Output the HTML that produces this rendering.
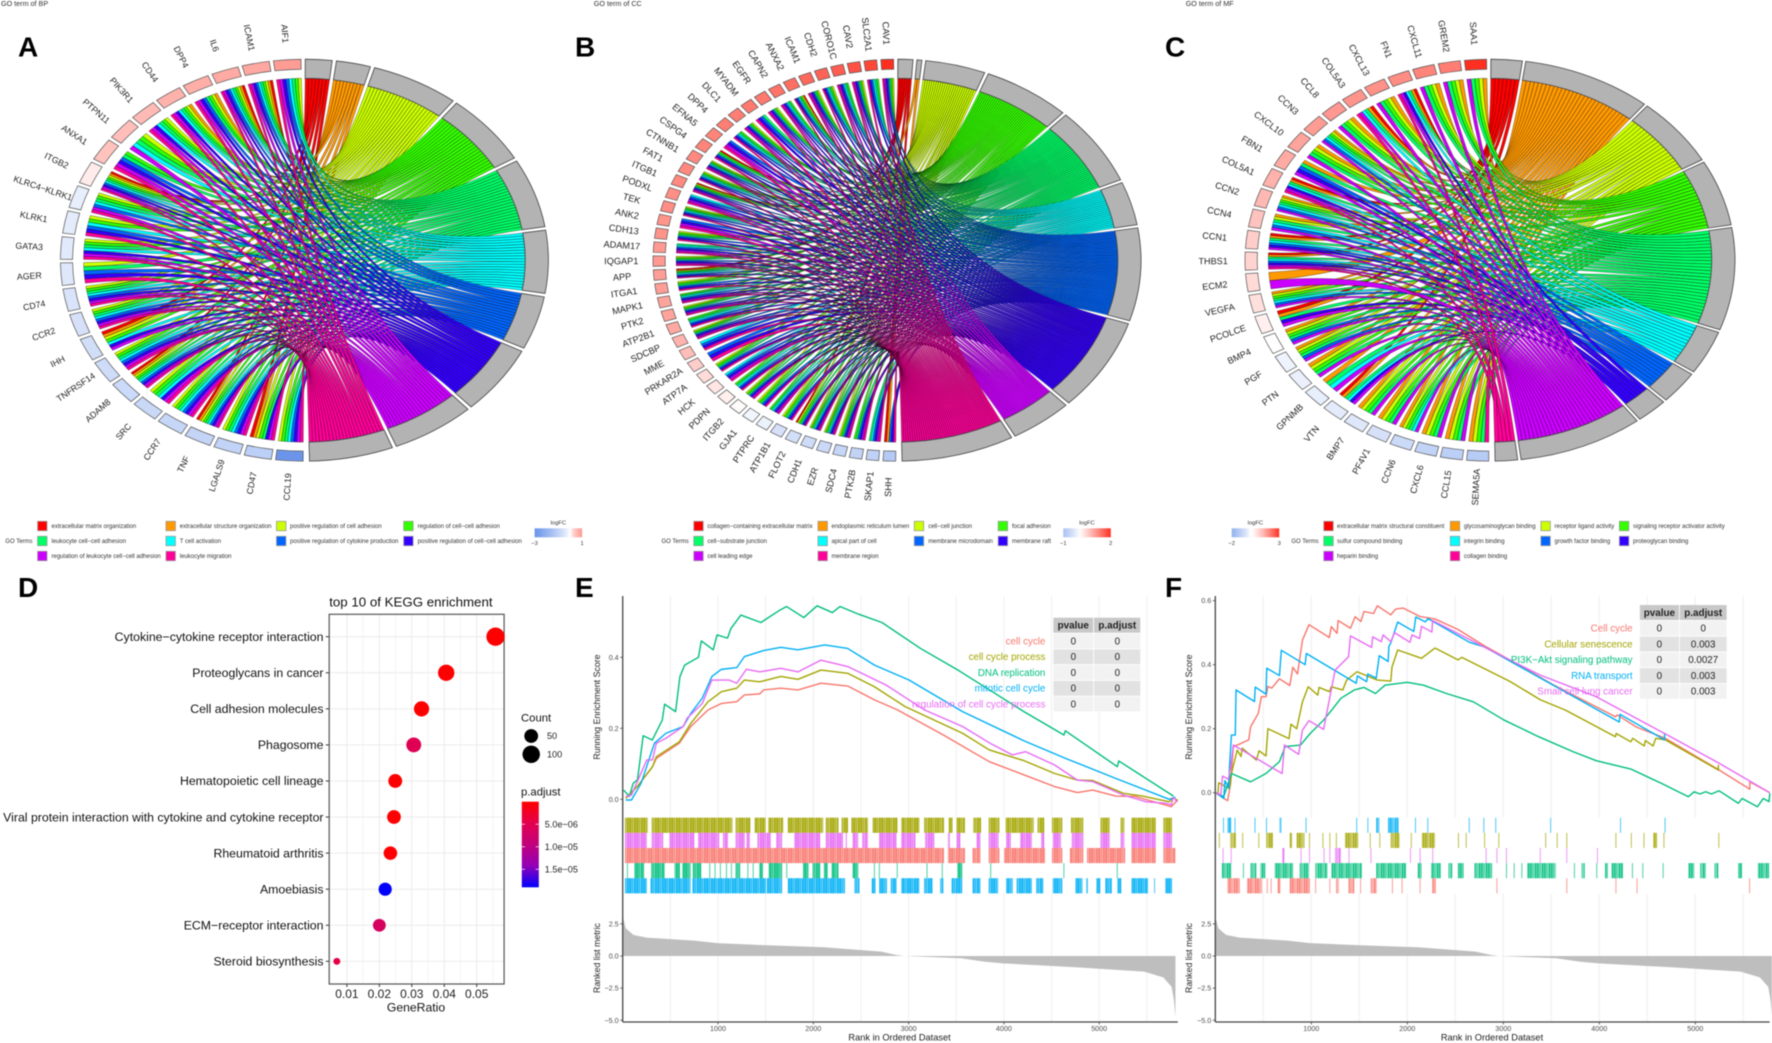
<!DOCTYPE html>
<html lang="en">
<head>
<meta charset="utf-8">
<title>GO chord, KEGG and GSEA enrichment figure</title>
<style>
html,body{margin:0;padding:0;background:#fff;}
svg{display:block;font-family:"Liberation Sans",sans-serif;filter:blur(0.4px);}
</style>
</head>
<body>
<svg id="figure" xmlns="http://www.w3.org/2000/svg" width="1772" height="1043" viewBox="0 0 1772 1043">
<rect x="0" y="0" width="1772" height="1043" fill="#fff"/>
<defs id="defs"></defs>
<text x="18" y="56.5" font-size="28" font-weight="bold" fill="#000">A</text>
<text x="575" y="56.5" font-size="28" font-weight="bold" fill="#000">B</text>
<text x="1165" y="56.5" font-size="28" font-weight="bold" fill="#000">C</text>
<text x="18" y="597" font-size="28" font-weight="bold" fill="#000">D</text>
<text x="575" y="597" font-size="28" font-weight="bold" fill="#000">E</text>
<text x="1165" y="597" font-size="28" font-weight="bold" fill="#000">F</text>
<text x="1" y="6" font-size="7.2" fill="#333">GO term of BP</text>
<text x="593.8" y="6" font-size="7.2" fill="#333">GO term of CC</text>
<text x="1185.7" y="6" font-size="7.2" fill="#333">GO term of MF</text>
</svg>
<script>
// ---------- shared chord data ----------
const rainbowColors = ["#FF0000","#FF9900","#CCFF00","#33FF00","#00FF66","#00FFFF","#0066FF","#3300FF","#CC00FF","#FF0099"];

// ---------- panel A ----------
const bpTerms = ["extracellular matrix organization","extracellular structure organization","positive regulation of cell adhesion","regulation of cell−cell adhesion","leukocyte cell−cell adhesion","T cell activation","positive regulation of cytokine production","positive regulation of cell−cell adhesion","regulation of leukocyte cell−cell adhesion","leukocyte migration"];
const bpGenes = ["AIF1","ICAM1","IL6","DPP4","CD44","PIK3R1","PTPN11","ANXA1","ITGB2","KLRC4−KLRK1","KLRK1","GATA3","AGER","CD74","CCR2","IHH","TNFRSF14","ADAM8","SRC","CCR7","TNF","LGALS9","CD47","CCL19"];
const bpLogFC = [0.95,0.8,0.75,0.7,0.65,0.55,0.5,0.45,0.08,-0.3,-0.35,-0.4,-0.45,-0.55,-0.6,-0.7,-0.75,-0.8,-0.85,-0.9,-0.95,-1,-1.1,-2.95];
const bpMembers = [
 [2,3,9,16,18,21,23],
 [2,3,4,5,9,16,18,21,23],
 [1,2,3,4,5,6,7,9,10,11,12,13,14,15,16,17,18,19,20,21,22,23,24],
 [1,2,3,4,5,6,7,8,9,10,11,12,14,15,16,17,18,19,20,21,22,23,24],
 [1,2,3,4,5,6,7,8,9,10,12,13,14,15,17,18,19,20,21,22,23,24],
 [1,2,3,5,6,7,9,10,11,12,14,15,16,17,18,19,20,21,22,24],
 [1,2,3,4,8,9,10,11,13,14,15,17,18,20,21,22,24],
 [1,2,3,4,5,6,8,9,11,12,13,14,15,16,17,18,19,20,21,22,23,24],
 [1,2,3,4,5,6,7,8,9,10,12,14,15,16,17,18,19,20,21,22,23,24],
 [1,2,3,4,5,6,8,9,10,11,12,13,14,15,17,18,19,20,21,22,23,24]
];

// ---------- panel B ----------
const ccTerms = ["collagen−containing extracellular matrix","endoplasmic reticulum lumen","cell−cell junction","focal adhesion","cell−substrate junction","apical part of cell","membrane microdomain","membrane raft","cell leading edge","membrane region"];
const ccGenes = ["CAV1","SLC2A1","CAV2","CORO1C","CDH2","ICAM1","ANXA2","CAPN2","EGFR","MYADM","DLC1","DPP4","EFNA5","CSPG4","CTNNB1","FAT1","ITGB1","PODXL","TEK","ANK2","CDH13","ADAM17","IQGAP1","APP","ITGA1","MAPK1","PTK2","ATP2B1","SDCBP","MME","PRKAR2A","ATP7A","HCK","PDPN","ITGB2","GJA1","PTPRC","ATP1B1","FLOT2","CDH1","EZR","SDC4","PTK2B","SKAP1","SHH"];
const ccLogFC = [2,1.8,1.7,1.6,1.55,1.5,1.45,1.4,1.35,1.35,1.3,1.3,1.25,1.25,1.2,1.2,1.2,1.15,1.15,1.1,1.1,1.05,1.05,1,1,0.95,0.95,0.9,0.8,0.7,0.55,0.4,0.3,0.2,0.05,-0.1,-0.15,-0.4,-0.45,-0.5,-0.55,-0.6,-0.65,-0.7,-0.85];
const ccMembers = [
 [7,14,17,24,39,45],
 [24,45],
 [1,3,5,6,7,9,11,15,16,17,19,21,23,25,27,29,32,35,36,38,39,40,41,42],
 [1,2,3,4,5,6,7,8,9,11,12,14,15,16,17,19,21,23,24,25,26,27,28,29,32,34,35,36,37,38,39,40,41,42,43],
 [1,2,3,4,5,6,7,8,9,10,11,12,14,15,16,17,19,21,22,23,24,25,26,27,28,29,32,34,35,36,37,38,39,40,41,42,43,44],
 [2,4,5,7,8,12,15,16,18,19,22,24,26,28,30,33,34,37,40,41,44],
 [1,2,3,4,5,6,7,8,9,10,11,12,13,14,15,16,17,18,19,20,21,22,23,24,25,26,27,28,29,30,31,32,33,34,35,36,37,38,39,40,41,42,43,44,45],
 [1,2,3,4,5,6,7,8,9,10,11,12,13,14,15,16,17,18,19,20,21,22,23,24,25,26,27,28,29,30,31,32,33,34,35,36,37,38,39,40,41,42,43,44,45],
 [1,3,4,6,8,9,11,13,15,17,18,20,22,23,26,27,29,33,35,37,40,41,42,43,44],
 [1,2,3,4,5,6,7,8,9,10,11,12,13,14,15,16,17,18,19,20,21,22,23,24,25,26,27,28,29,30,31,32,33,34,35,36,37,38,39,40,41,42,43,44,45]
];

// ---------- panel C ----------
const mfTerms = ["extracellular matrix structural constituent","glycosaminoglycan binding","receptor ligand activity","signaling receptor activator activity","sulfur compound binding","integrin binding","growth factor binding","proteoglycan binding","heparin binding","collagen binding"];
const mfGenes = ["SAA1","GREM2","CXCL11","FN1","CXCL13","COL5A3","CCL8","CCN3","CXCL10","FBN1","COL5A1","CCN2","CCN4","CCN1","THBS1","ECM2","VEGFA","PCOLCE","BMP4","PGF","PTN","GPNMB","VTN","BMP7","PF4V1","CCN6","CXCL6","CCL15","SEMA5A"];
const mfLogFC = [3,2.1,2,1.9,1.85,1.8,1.75,1.7,1.6,1.5,1.4,1.3,1.15,1,0.9,0.8,0.7,0.4,0.05,-0.2,-0.25,-0.3,-0.35,-0.45,-0.6,-0.8,-1,-1.1,-1.2];
const mfMembers = [
 [4,6,11,14,15,18,23],
 [1,2,3,4,5,6,7,8,9,10,11,12,13,14,15,16,17,18,19,20,21,22,23,24,25,26,27,28,29],
 [1,2,3,5,7,8,9,12,13,17,19,20,21,24,25,26,27,28,29],
 [1,2,3,5,7,8,9,12,17,19,20,21,24,25,26,27,28,29],
 [1,2,3,4,5,6,7,8,9,10,11,12,13,14,15,17,18,19,20,21,22,23,24,25,26,27,28,29],
 [4,6,8,11,12,13,14,15,17,22,23,26],
 [8,10,12,13,14,15,17,19,20],
 [4,10,11,14,15,18,23],
 [1,2,3,4,5,6,7,8,9,10,11,12,13,14,15,16,17,18,19,20,21,22,23,24,25,26,27,28],
 [4,6,11,15,29]
];

// ---------- panel D ----------
const keggPathways = ["Cytokine−cytokine receptor interaction","Proteoglycans in cancer","Cell adhesion molecules","Phagosome","Hematopoietic cell lineage","Viral protein interaction with cytokine and cytokine receptor","Rheumatoid arthritis","Amoebiasis","ECM−receptor interaction","Steroid biosynthesis"];
const keggGeneRatio = [0.0558,0.0406,0.0330,0.0306,0.0249,0.0245,0.0234,0.0218,0.0200,0.0069];
const keggCount = [114,83,67,63,51,50,48,44,41,14];
const keggPadjust = [1e-8,1e-8,2e-8,5.3e-6,1e-7,1e-7,2e-7,1.9e-5,6.6e-6,4.2e-6];
const keggXTicks = [0.01,0.02,0.03,0.04,0.05];
const keggXMinor = [0.015,0.025,0.035,0.045,0.055];
const keggCountLegend = [50,100];
const keggPTicks = [5e-6,1e-5,1.5e-5];
const keggPTickLabels = ["5.0e−06","1.0e−05","1.5e−05"];

// ---------- ranked list shared by panels E and F ----------
const metricRank = [1,32,112,252,752,992,1472,2112,2712,2872,2952,3552,3792,3992,4752,5472,5672,5760,5784,5800];
const metricValue = [3.07,2.16,1.64,1.43,1.2,1,0.85,0.68,0.34,0.08,0,-0.18,-0.44,-0.57,-0.88,-1.22,-1.66,-2.4,-3.44,-4.74];
const rankTicks = [1000,2000,3000,4000,5000];
const rankMinor = [500,1500,2500,3500,4500,5500];
const metricTicks = [2.5,0,-2.5,-5];
const metricTickLabels = ["2.5","0.0","−2.5","−5.0"];

// ---------- panel E ----------
const eEsTicks = [0,0.2,0.4];
const eRedRank = [32,153,313,353,594,715,896,1036,1197,1277,1438,1478,1659,1839,2080,2361,2642,2883,3365,3847,4209,4530,4771,4932,5173,5373,5695,5755,5823];
const eRedES = [0.003,0.036,0.092,0.115,0.158,0.205,0.252,0.27,0.275,0.294,0.297,0.308,0.313,0.308,0.327,0.319,0.28,0.252,0.181,0.106,0.069,0.036,0.019,0.026,0.009,0.008,-0.016,-0.021,-0.002];
const eOliveRank = [32,153,313,353,594,715,896,1036,1197,1277,1438,1659,1839,2080,2361,2642,2964,3566,3847,4209,4530,4771,4932,5253,5454,5735,5775,5823];
const eOliveES = [0.003,0.036,0.092,0.12,0.162,0.214,0.275,0.303,0.313,0.336,0.331,0.346,0.338,0.364,0.355,0.317,0.261,0.186,0.139,0.109,0.073,0.054,0.053,0.017,0.009,-0.007,0.003,-0.002];
const eGreenRank = [10,70,110,155,215,310,415,440,555,600,650,795,825,950,990,1100,1135,1240,1450,1650,1720,1900,2040,2200,2280,2480,2720,3125,3530,4210,4630,4645,5190,5205,5780];
const eGreenES = [0.026,0.008,0.045,0.055,0.179,0.167,0.223,0.268,0.247,0.345,0.378,0.4,0.446,0.421,0.463,0.454,0.481,0.519,0.498,0.533,0.543,0.512,0.545,0.526,0.543,0.521,0.498,0.425,0.362,0.247,0.181,0.193,0.092,0.108,0.009];
const eBlueRank = [32,92,193,333,454,635,715,835,936,1036,1197,1277,1478,1659,1839,2120,2361,2642,3004,3566,4209,4650,5173,5735,5800];
const eBlueES = [-0.002,-0.002,0.045,0.158,0.186,0.205,0.242,0.285,0.346,0.366,0.371,0.402,0.419,0.428,0.421,0.435,0.425,0.378,0.336,0.247,0.165,0.115,0.059,0,0.006];
const ePinkRank = [32,92,253,313,353,454,635,675,835,936,1116,1197,1297,1438,1659,1839,2080,2361,2763,3165,3566,3867,4088,4229,4530,4771,4932,5253,5494,5695,5755,5775,5823];
const ePinkES = [0.008,0.012,0.111,0.111,0.158,0.172,0.205,0.228,0.27,0.336,0.336,0.327,0.366,0.359,0.369,0.359,0.392,0.374,0.322,0.252,0.205,0.156,0.125,0.134,0.097,0.054,0.05,0.012,-0.007,-0.011,-0.016,0.005,-0.007];
const eRugOlive = [[24,264],[304,1152],[1184,1340],[1384,1500],[1528,1684],[1732,2104],[2132,2264],[2296,2364],[2400,2572],[2624,2884],[2924,3112],[3164,3372],[3420,3460],[3504,3592],[3680,3760],[3840,3952],[4020,4312],[4352,4424],[4504,4612],[4704,4832],[5012,5112],[5224,5264],[5340,5592],[5672,5764]];
const eRugPink = [[24,252],[304,424],[492,752],[792,1012],[1052,1104],[1184,1280],[1300,1332],[1412,1552],[1612,1672],[1800,2072],[2132,2312],[2340,2352],[2412,2472],[2512,2572],[2692,2872],[2924,3072],[3172,3272],[3412,3432],[3504,3544],[3712,3752],[3840,3944],[4024,4072],[4172,4292],[4392,4424],[4512,4600],[4712,4832],[5012,5112],[5224,5264],[5340,5592],[5672,5764]];
const eRugRed = [[24,3372],[3412,3592],[3672,3752],[3840,3952],[4000,4432],[4504,4612],[4692,4832],[4872,5272],[5340,5592],[5672,5800]];
const eRugGreen = [44,[124,224],[300,440],[544,600],[624,712],[736,824],908,964,1020,1084,1136,[1184,1232],1308,1364,[1432,1472],[1532,1672],1716,[1892,1952],[1992,2072],[2112,2152],[2192,2264],[2412,2472],2636,2688,2876,3188,3348,[3512,3564],3856,4624,5184];
const eRugBlue = [[24,252],[292,712],[732,1504],[1512,1672],[1732,2332],[2432,2484],[2612,2652],[2692,2772],[2812,2872],[2924,3112],[3164,3252],[3332,3364],[3452,3564],[3672,3752],[3840,3940],[4024,4092],[4132,4292],[4340,4412],[4512,4612],[4752,4824],[4864,4880],[4972,5012],[5064,5132],[5192,5232],[5340,5512],5576,[5692,5764]];
const eSets = ["cell cycle","cell cycle process","DNA replication","mitotic cell cycle","regulation of cell cycle process"];
const ePvalue = ["0","0","0","0","0"];
const ePadjust = ["0","0","0","0","0"];

// ---------- panel F ----------
const fEsTicks = [0,0.2,0.4,0.6];
const fRedRank = [8,128,160,188,268,348,368,448,480,528,548,588,668,776,808,856,908,976,1188,1208,1268,1280,1408,1456,1516,1548,1648,1688,1828,1880,1956,2128,2288,2528,2808,3008,3528,4168,4188,4388,4688,5248,5568,5568,5776];
const fRedES = [-0.002,-0.025,0.029,0.144,0.154,0.165,0.206,0.248,0.3,0.3,0.332,0.327,0.356,0.335,0.392,0.371,0.477,0.525,0.485,0.519,0.498,0.538,0.514,0.55,0.535,0.566,0.56,0.584,0.556,0.574,0.577,0.551,0.543,0.51,0.458,0.425,0.336,0.2375,0.243,0.205,0.17,0.071,0.011,0.034,0];
const fOliveRank = [28,36,108,148,168,228,268,280,428,456,528,548,768,788,848,908,968,1068,1080,1188,1208,1328,1368,1476,1688,1828,1840,1900,2148,2288,2528,2568,2808,3068,3388,3648,4168,4176,4328,4348,4468,4480,4560,4588,4688,5240,5240];
const fOliveES = [-0.002,0.031,0.019,0.014,0.06,0.133,0.113,0.139,0.102,0.131,0.115,0.2,0.169,0.214,0.2,0.284,0.331,0.305,0.329,0.316,0.331,0.321,0.352,0.378,0.352,0.349,0.392,0.446,0.42,0.452,0.415,0.423,0.387,0.348,0.29,0.258,0.175,0.185,0.159,0.17,0.146,0.163,0.146,0.17,0.165,0.071,0.087];
const fGreenRank = [28,88,168,368,528,668,728,888,988,1128,1228,1308,1448,1548,1668,1768,2000,2168,2408,2688,3008,3368,3728,3968,4328,4648,4928,4988,5048,5108,5168,5248,5448,5488,5648,5708,5768,5776];
const fGreenES = [-0.004,-0.012,0.06,0.034,0.06,0.097,0.144,0.149,0.185,0.227,0.264,0.295,0.321,0.329,0.31,0.336,0.345,0.336,0.31,0.284,0.227,0.175,0.128,0.1,0.074,0.029,-0.0125,0.003,-0.004,0.003,-0.004,0.006,-0.033,-0.018,-0.044,-0.018,-0.028,-0.002];
const fBlueRank = [8,88,100,140,148,168,208,216,408,416,528,536,668,688,936,948,1468,1480,1576,1588,1676,1708,1800,1808,1828,1900,2068,2088,2188,2216,2648,2808,4208,4216,4680,4680];
const fBlueES = [0,-0.018,0.038,0.014,0.081,0.18,0.18,0.321,0.285,0.33,0.308,0.389,0.366,0.445,0.4,0.435,0.342,0.365,0.347,0.371,0.358,0.428,0.41,0.457,0.468,0.533,0.504,0.549,0.534,0.544,0.47,0.455,0.221,0.245,0.165,0.185];
const fPinkRank = [8,56,76,136,160,188,696,720,868,908,976,1128,1168,1248,1388,1408,1628,1640,1728,1748,1828,1868,2028,2048,2128,2148,2256,2264,2808,3388,3968,4680,5248,5776];
const fPinkES = [0,-0.007,0.052,0.042,0.081,0.149,0.06,0.149,0.12,0.196,0.225,0.198,0.26,0.383,0.425,0.49,0.454,0.487,0.472,0.493,0.472,0.5,0.47,0.493,0.482,0.52,0.502,0.538,0.454,0.367,0.3,0.185,0.092,0];
const fRugBlue = [80,[128,168],200,408,528,[668,688],940,1468,1584,[1676,1708],[1800,1908],2080,2208,2640,2792,2916,3488,4216,4680];
const fRugOlive = [36,[156,216],280,448,[528,600],[776,800],[848,928],976,1116,1188,1256,[1348,1488],1608,1708,[1828,1920],2036,[2148,2288],2528,2608,2800,2948,3436,3556,3656,4168,4328,4460,[4560,4600],4668,5240];
const fRugPink = [76,160,[696,720],888,976,1128,1188,[1248,1308],1388,1616,2028,2128,2260,2816,2928,3028,3380,3656,3976];
const fRugGreen = [[68,168],288,[368,428],[468,520],[616,808],[880,976],[1040,1168],[1208,1528],[1676,1988],[2108,2148],[2248,2348],[2428,2468],[2528,2588],[2700,2888],3028,3108,3188,[3248,3548],3736,[3816,3848],3968,[4060,4088],[4128,4248],4340,4448,4660,[4928,4988],[5048,5108],[5200,5240],[5448,5488],[5648,5768]];
const fRugRed = [[128,256],[328,488],536,576,[648,680],[776,988],1040,1188,[1256,1288],[1388,1448],1508,[1616,1680],1840,1940,2128,[2260,2300],2928,3656,4168,4388,5560];
const fSets = ["Cell cycle","Cellular senescence","PI3K−Akt signaling pathway","RNA transport","Small cell lung cancer"];
const fPvalue = ["0","0","0","0","0"];
const fPadjust = ["0","0.003","0.0027","0.003","0.003"];

// ---------- helpers ----------
const NS = "http://www.w3.org/2000/svg";
const svg = document.getElementById("figure");
const defs = document.getElementById("defs");
function mk(parent, tag, attrs, txt){
  const e = document.createElementNS(NS, tag);
  for (const k in attrs) e.setAttribute(k, attrs[k]);
  if (txt !== undefined) e.textContent = txt;
  parent.appendChild(e);
  return e;
}
function hex(c){return [parseInt(c.slice(1,3),16),parseInt(c.slice(3,5),16),parseInt(c.slice(5,7),16)];}
function mix(a,b,t){const A=hex(a),B=hex(b);return "rgb("+A.map((v,i)=>Math.round(v+(B[i]-v)*t)).join(",")+")";}
function fcColor(v,maxAbs,redPow){
  const r = Math.min(1,Math.abs(v)/maxAbs);
  return v>=0 ? mix("#ffffff","#ff3020",Math.pow(r,redPow)) : mix("#ffffff","#6a94ea",Math.pow(r,0.8));
}

// ---------- chord drawing ----------
function drawChord(root, o){
  const g = mk(root,"g",{});
  
  
  const pt = (a,r)=>{const t=a*Math.PI/180;return [o.cx+o.rx*r*Math.sin(t), o.cy-o.ry*r*Math.cos(t)];};
  const f = p=>p[0].toFixed(2)+" "+p[1].toFixed(2);
  const RIB=0.905, GEN=0.95, OUT=1;
  const n=o.genes.length;
  const gap=1, pitch=(359.2-180.3+gap)/n;
  const total=o.members.reduce((s,m)=>s+m.length,0);
  const unit=(178.6-9*o.termGap)/total;
  const geneTerms=o.genes.map(()=>[]);
  o.members.forEach((m,j)=>m.forEach(i=>geneTerms[i-1].push(j)));
  geneTerms.forEach(l=>l.sort((a,b)=>b-a));
  const geneSpan=i=>{const a1=359.2-i*pitch;return [a1-(pitch-gap),a1];};
  let cursor=0.2;
  const termSpans=[];
  o.members.forEach(m=>{const w=m.length*unit;termSpans.push([cursor,cursor+w]);cursor+=w+o.termGap;});
  const c=f([o.cx,o.cy]);
  // ribbons: each term's fan, top gene first clockwise (untwisted)
  o.members.forEach((m,j)=>{
    const order=m.slice().sort((a,b)=>a-b);
    const s=termSpans[j];
    order.forEach((geneNo,k)=>{
      const i=geneNo-1, gs=geneSpan(i), list=geneTerms[i];
      const w=(gs[1]-gs[0])/list.length, pos=list.indexOf(j);
      const g0=gs[0]+pos*w, g1=g0+w;
      const t0=s[0]+k*unit, t1=t0+unit;
      const ribbon=mk(g,"path",{d:"M"+f(pt(t0,RIB))+"Q"+c+" "+f(pt(g1,RIB))+"L"+f(pt(g0,RIB))+"Q"+c+" "+f(pt(t1,RIB))+"Z",fill:rainbowColors[j],stroke:"#000","stroke-width":"0.3"});
      
      
    });
  });
  const sector=(a0,a1,r0,r1,fill,stroke,sw)=>{
    const A=(r)=>"A"+(o.rx*r).toFixed(2)+" "+(o.ry*r).toFixed(2)+" 0 0 ";
    return mk(g,"path",{d:"M"+f(pt(a0,r0))+"L"+f(pt(a0,r1))+A(r1)+"1 "+f(pt(a1,r1))+"L"+f(pt(a1,r0))+A(r0)+"0 "+f(pt(a0,r0))+"Z",fill:fill,stroke:stroke,"stroke-width":sw});
  };
  termSpans.forEach(s=>{
    const sec=sector(s[0],s[1],RIB,OUT,"#b3b3b3","#444","0.8");
    
    
  });
  o.genes.forEach((name,i)=>{
    const s=geneSpan(i);
    const box=sector(s[0],s[1],GEN,OUT,fcColor(o.lfc[i],o.maxAbs,o.redPow),"#555","0.7");
    
    
    const mid=(s[0]+s[1])/2, p=pt(mid,1.13);
    const lab=mk(g,"text",{x:p[0].toFixed(2),y:p[1].toFixed(2),"font-size":o.labelSize,"text-anchor":"middle","dominant-baseline":"central",fill:"#222",transform:"rotate("+(mid-270).toFixed(2)+" "+p[0].toFixed(2)+" "+p[1].toFixed(2)+")"},name);
    
    
  });
  // legend
  const rows=[526,541,556];
  const goLab=mk(g,"text",{x:o.goX,y:rows[1]+2,"font-size":"6",fill:"#333"},"GO Terms");
  
  
  o.terms.forEach((t,j)=>{
    const col=j%4,row=Math.floor(j/4);
    const key=mk(g,"rect",{x:o.keyX[col],y:rows[row]-4.7,width:"9.4",height:"9.4",fill:rainbowColors[j],stroke:"#999","stroke-width":"0.8"});
    
    
    const tx=mk(g,"text",{x:o.textX[col],y:rows[row]+2,"font-size":"6",fill:"#333"},t);
    
    
  });
  const gid="fc"+o.name;
  const lg=mk(defs,"linearGradient",{id:gid,x1:"0",x2:"1",y1:"0",y2:"0"});
  for(let k=0;k<=20;k++){
    const v=o.low+(o.high-o.low)*k/20;
    mk(lg,"stop",{offset:(k*5)+"%","stop-color":fcColor(v,o.maxAbs,o.redPow)});
  }
  const bar=mk(g,"rect",{x:o.barX,y:"528.3",width:"47.5",height:"9",fill:"url(#"+gid+")"});
  
  
  const bt=mk(g,"text",{x:o.barX+23.7,y:"524.5","font-size":"5.8","text-anchor":"middle",fill:"#333"},"logFC");
  
  
  const b1=mk(g,"text",{x:o.barX,y:"545","font-size":"5.8","text-anchor":"middle",fill:"#333"},String(o.low).replace("-","−"));
  
  
  const b2=mk(g,"text",{x:o.barX+47.5,y:"545","font-size":"5.8","text-anchor":"middle",fill:"#333"},String(o.high));
  
  
}
drawChord(svg,{name:"bp-chord",cx:304.4,cy:260.2,rx:244,ry:201,genes:bpGenes,lfc:bpLogFC,members:bpMembers,terms:bpTerms,maxAbs:3,redPow:0.65,low:-3,high:1,termGap:1,labelSize:8.8,goX:5.3,keyX:[37.6,166,276.5,403.7],textX:[51.5,179.8,290,417.6],barX:534.6});
drawChord(svg,{name:"cc-chord",cx:897,cy:260.2,rx:244,ry:201,genes:ccGenes,lfc:ccLogFC,members:ccMembers,terms:ccTerms,maxAbs:2,redPow:1.1,low:-1,high:2,termGap:0.9,labelSize:9.2,goX:661.5,keyX:[693.8,818,914.3,998.2],textX:[707.4,831.5,928.2,1012],barX:1063.3});
drawChord(svg,{name:"mf-chord",cx:1490,cy:260.2,rx:245,ry:201,genes:mfGenes,lfc:mfLogFC,members:mfMembers,terms:mfTerms,maxAbs:3,redPow:1.3,low:-2,high:3,termGap:0.8,labelSize:9.1,goX:1291.4,keyX:[1323.8,1450.3,1540.9,1619.4],textX:[1337,1463.9,1554.5,1633],barX:1231.7});

// ---------- panel D ----------
(function(){
  const g=mk(svg,"g",{});
  
  
  const L=329.2,R=504.1,T=614.3,B=984;
  const x=v=>346.9+(v-0.01)*3245;
  const y=i=>636.7+i*36.07;
  const stops=["#FF0000","#E3004E","#C1007C","#9300B6","#0000FF"];
  const pColor=p=>{
    const t=Math.min(1,Math.max(0,p/1.9e-5))*4, k=Math.min(3,Math.floor(t));
    return mix(stops[k],stops[k+1],t-k);
  };
  const radius=c=>1.13*(3+5*Math.sqrt(Math.max(0,(c-14)/100)))+0.1;
  keggXMinor.forEach(v=>{
    const l=mk(g,"line",{x1:x(v),x2:x(v),y1:T,y2:B,stroke:"#f0f0f0","stroke-width":"0.7"});
    
    
  });
  keggXTicks.forEach(v=>{
    const l=mk(g,"line",{x1:x(v),x2:x(v),y1:T,y2:B,stroke:"#ebebeb","stroke-width":"1"});
    
    
    const tk=mk(g,"line",{x1:x(v),x2:x(v),y1:B,y2:B+3,stroke:"#333","stroke-width":"1"});
    
    
    const t=mk(g,"text",{x:x(v),y:"998","font-size":"12","text-anchor":"middle",fill:"#222"},v.toFixed(2));
    
    
  });
  keggPathways.forEach((name,i)=>{
    const l=mk(g,"line",{x1:L,x2:R,y1:y(i),y2:y(i),stroke:"#ebebeb","stroke-width":"1"});
    
    
    const tk=mk(g,"line",{x1:L-3.4,x2:L,y1:y(i),y2:y(i),stroke:"#333","stroke-width":"1"});
    
    
    const t=mk(g,"text",{x:L-5.7,y:y(i)+4.2,"font-size":"12.3","text-anchor":"end",fill:"#111"},name);
    
    
  });
  const frame=mk(g,"rect",{x:L,y:T,width:R-L,height:B-T,fill:"none",stroke:"#555","stroke-width":"1.2"});
  
  
  keggPathways.forEach((name,i)=>{
    const d=mk(g,"circle",{cx:x(keggGeneRatio[i]),cy:y(i),r:radius(keggCount[i]),fill:pColor(keggPadjust[i])});
    
    
  });
  const title=mk(g,"text",{x:L,y:"606.5","font-size":"13.3",fill:"#111"},"top 10 of KEGG enrichment");
  
  
  const xt=mk(g,"text",{x:"416",y:"1011.5","font-size":"12.2","text-anchor":"middle",fill:"#111"},"GeneRatio");
  
  
  const c=mk(g,"text",{x:"521",y:"721.5","font-size":"11.3",fill:"#111"},"Count");
  
  
  keggCountLegend.forEach((v,i)=>{
    const cy=736+i*18.3;
    const d=mk(g,"circle",{cx:"531.2",cy:cy,r:radius(v),fill:"#000"});
    
    
    const t=mk(g,"text",{x:"547",y:cy+3.2,"font-size":"9.1",fill:"#222"},String(v));
    
    
  });
  const p=mk(g,"text",{x:"521",y:"795.5","font-size":"11.3",fill:"#111"},"p.adjust");
  
  
  const lg=mk(defs,"linearGradient",{id:"pbar",x1:"0",x2:"0",y1:"0",y2:"1"});
  stops.forEach((s,i)=>mk(lg,"stop",{offset:(i*25)+"%","stop-color":s}));
  const bar=mk(g,"rect",{x:"521.8",y:"801.7",width:"17",height:"85.6",fill:"url(#pbar)"});
  
  
  keggPTicks.forEach((v,i)=>{
    const yy=801.7+v/1.9e-5*85.6;
    const a=mk(g,"line",{x1:"521.8",x2:"525",y1:yy,y2:yy,stroke:"#fff","stroke-width":"0.7"});
    
    
    const b=mk(g,"line",{x1:"535.6",x2:"538.8",y1:yy,y2:yy,stroke:"#fff","stroke-width":"0.7"});
    
    
    const t=mk(g,"text",{x:"544.8",y:yy+3.1,"font-size":"9.1",fill:"#222"},keggPTickLabels[i]);
    
    
  });
})();

// ---------- panels E and F ----------
const gseaRed="#F8766D", gseaOlive="#A3A500", gseaGreen="#00BF7D", gseaBlue="#00B0F6", gseaPink="#E76BF3";
function drawGsea(o){
  const g=mk(svg,"g",{});
  
  
  const x=r=>o.x0+r*o.perRank;
  const yES=v=>o.es0-v*o.esUnit;
  const yM=v=>956-v*12.85;
  const gridRanks=rankTicks.concat(rankMinor);
  gridRanks.forEach(r=>{
    [[596,817.7],[893.3,1021.5]].forEach(seg=>{
      const l=mk(g,"line",{x1:x(r),x2:x(r),y1:seg[0],y2:seg[1],stroke:"#efefef","stroke-width":"1"});
      
      
    });
  });
  // running enrichment lines
  o.series.forEach(s=>{
    const pts=s.rank.map((r,i)=>x(r).toFixed(2)+","+yES(s.es[i]).toFixed(2)).join(" ");
    const l=mk(g,"polyline",{points:pts,fill:"none",stroke:s.color,"stroke-width":"1.4","stroke-linejoin":"round"});
    
    
  });
  // hit rug: clusters of hits are a pale underlay with a fine tick texture on top
  o.rugs.forEach((rug,row)=>{
    const top=817.7+row*15.13;
    const pid=o.name+"-rug-"+row;
    const pat=mk(defs,"pattern",{id:pid,patternUnits:"userSpaceOnUse",x:o.x0,y:top,width:"7",height:"16"});
    [[0,1.4],[2.2,1],[4.3,1.5],[6.2,0.5]].forEach(tick=>mk(pat,"rect",{x:tick[0],y:"0",width:tick[1],height:"16",fill:rug.color}));
    rug.hits.forEach(h=>{
      const a=Array.isArray(h)?h[0]:h, b=Array.isArray(h)?h[1]:h;
      const w=Math.max(1,x(b)-x(a));
      const mark=mk(g,"rect",{x:x(a).toFixed(2),y:top,width:w.toFixed(2),height:"15.13",fill:rug.color,opacity:Array.isArray(h)?o.rugUnder:"0.7"});
      
      
      if(Array.isArray(h)){
        const tex=mk(g,"rect",{x:x(a).toFixed(2),y:top,width:w.toFixed(2),height:"15.13",fill:"url(#"+pid+")"});
        
        
      }
    });
  });
  // ranked metric area
  let d="M"+x(metricRank[0]).toFixed(2)+" "+yM(0);
  metricRank.forEach((r,i)=>{d+="L"+x(r).toFixed(2)+" "+yM(metricValue[i]).toFixed(2);});
  d+="L"+x(metricRank[metricRank.length-1]).toFixed(2)+" "+yM(0)+"Z";
  const area=mk(g,"path",{d:d,fill:"#bebebe"});
  
  
  // axes
  const yAxis=mk(g,"line",{x1:o.x0,x2:o.x0,y1:"596",y2:"1022",stroke:"#444","stroke-width":"1.3"});
  
  
  const xAxis=mk(g,"line",{x1:o.x0,x2:o.right,y1:"1022",y2:"1022",stroke:"#444","stroke-width":"1.3"});
  
  
  o.esTicks.forEach(v=>{
    const t=mk(g,"line",{x1:o.x0-2.5,x2:o.x0,y1:yES(v),y2:yES(v),stroke:"#444","stroke-width":"0.8"});
    
    
    const l=mk(g,"text",{x:o.x0-4,y:yES(v)+2.5,"font-size":"7.2","text-anchor":"end",fill:"#4d4d4d"},v.toFixed(1));
    
    
  });
  metricTicks.forEach((v,i)=>{
    const t=mk(g,"line",{x1:o.x0-2.5,x2:o.x0,y1:yM(v),y2:yM(v),stroke:"#444","stroke-width":"0.8"});
    
    
    const l=mk(g,"text",{x:o.x0-4,y:yM(v)+2.5,"font-size":"7.2","text-anchor":"end",fill:"#4d4d4d"},metricTickLabels[i]);
    
    
  });
  rankTicks.forEach(r=>{
    const t=mk(g,"line",{x1:x(r),x2:x(r),y1:"1022",y2:"1024.5",stroke:"#444","stroke-width":"0.8"});
    
    
    const l=mk(g,"text",{x:x(r),y:"1031.2","font-size":"7.2","text-anchor":"middle",fill:"#4d4d4d"},String(r));
    
    
  });
  const xt=mk(g,"text",{x:o.xTitle,y:"1040.6","font-size":"9.25","text-anchor":"middle",fill:"#222"},"Rank in Ordered Dataset");
  
  
  const yt1=mk(g,"text",{x:o.yTitleX,y:"707","font-size":"8.8","text-anchor":"middle",fill:"#222",transform:"rotate(-90 "+o.yTitleX+" 707)"},"Running Enrichment Score");
  
  
  const yt2=mk(g,"text",{x:o.yTitleX,y:"958","font-size":"8.8","text-anchor":"middle",fill:"#222",transform:"rotate(-90 "+o.yTitleX+" 958)"},"Ranked list metric");
  
  
  // table
  const t=o.table, hh=15, rh=15.75, gap=0.9;
  [["pvalue",t.c1],["p.adjust",t.c2]].forEach((h,i)=>{
    const cx=i===0?t.x0:t.xm+gap/2, cw=i===0?t.xm-t.x0-gap/2:t.x1-t.xm-gap/2;
    const r=mk(g,"rect",{x:cx,y:t.y0,width:cw,height:hh,fill:"#c8c8c8"});
    
    
    const l=mk(g,"text",{x:h[1],y:t.y0+11,"font-size":"9.9","font-weight":"bold","text-anchor":"middle",fill:"#222"},h[0]);
    
    
  });
  t.sets.forEach((name,i)=>{
    const ry=t.y0+hh+gap+i*rh;
    const fill=i%2===0?"#f2f2f2":"#e2e2e2";
    const a=mk(g,"rect",{x:t.x0,y:ry,width:t.xm-t.x0-gap/2,height:rh-gap,fill:fill});
    
    
    const b=mk(g,"rect",{x:t.xm+gap/2,y:ry,width:t.x1-t.xm-gap/2,height:rh-gap,fill:fill});
    
    
    const v1=mk(g,"text",{x:t.c1,y:ry+10.8,"font-size":"9.8","text-anchor":"middle",fill:"#222"},t.p[i]);
    
    
    const v2=mk(g,"text",{x:t.c2,y:ry+10.8,"font-size":"9.8","text-anchor":"middle",fill:"#222"},t.a[i]);
    
    
    const lb=mk(g,"text",{x:t.labelX,y:ry+10.8,"font-size":"9.8","text-anchor":"end",fill:t.colors[i]},name);
    
    
  });
}
drawGsea({name:"gsea-panel-e",x0:622.7,perRank:0.0953,right:1177.8,es0:799.3,esUnit:355,esTicks:eEsTicks,xTitle:899.6,yTitleX:600,rugUnder:"0.45",
  series:[{rank:eRedRank,es:eRedES,color:gseaRed},{rank:eOliveRank,es:eOliveES,color:gseaOlive},{rank:eGreenRank,es:eGreenES,color:gseaGreen},{rank:eBlueRank,es:eBlueES,color:gseaBlue},{rank:ePinkRank,es:ePinkES,color:gseaPink}],
  rugs:[{hits:eRugOlive,color:gseaOlive},{hits:eRugPink,color:gseaPink},{hits:eRugRed,color:gseaRed},{hits:eRugGreen,color:gseaGreen},{hits:eRugBlue,color:gseaBlue}],
  table:{x0:1053.4,xm:1093.6,x1:1140.3,y0:617.7,c1:1073.3,c2:1117.3,labelX:1045.4,sets:eSets,p:ePvalue,a:ePadjust,colors:[gseaRed,gseaOlive,gseaGreen,gseaBlue,gseaPink]}});
drawGsea({name:"gsea-panel-f",x0:1215.3,perRank:0.096,right:1769.6,es0:792.7,esUnit:320,esTicks:fEsTicks,xTitle:1492,yTitleX:1192,rugUnder:"0.2",
  series:[{rank:fRedRank,es:fRedES,color:gseaRed},{rank:fOliveRank,es:fOliveES,color:gseaOlive},{rank:fGreenRank,es:fGreenES,color:gseaGreen},{rank:fBlueRank,es:fBlueES,color:gseaBlue},{rank:fPinkRank,es:fPinkES,color:gseaPink}],
  rugs:[{hits:fRugBlue,color:gseaBlue},{hits:fRugOlive,color:gseaOlive},{hits:fRugPink,color:gseaPink},{hits:fRugGreen,color:gseaGreen},{hits:fRugRed,color:gseaRed}],
  table:{x0:1639.9,xm:1679.4,x1:1726.6,y0:605,c1:1659.4,c2:1703.2,labelX:1632.6,sets:fSets,p:fPvalue,a:fPadjust,colors:[gseaRed,gseaOlive,gseaGreen,gseaBlue,gseaPink]}});
</script>
</body>
</html>
